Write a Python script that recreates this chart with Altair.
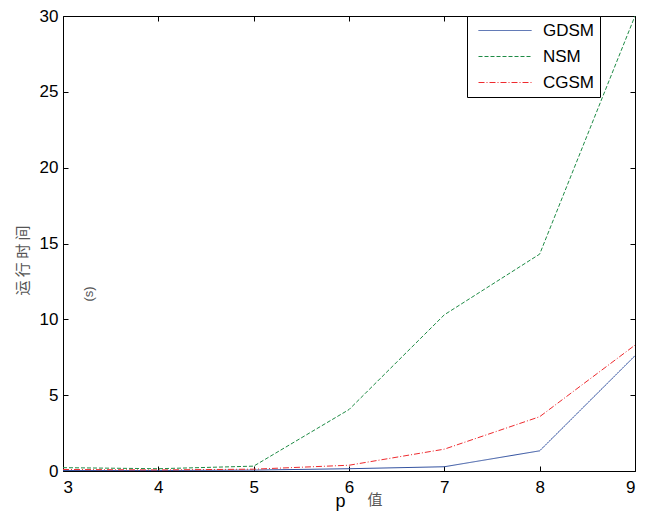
import altair as alt
import pandas as pd

p_values = [3, 4, 5, 6, 7, 8, 9]
gdsm = [0.03, 0.03, 0.06, 0.15, 0.28, 1.33, 7.6]
nsm = [0.22, 0.15, 0.32, 4.05, 10.3, 14.3, 30.0]
cgsm = [0.1, 0.07, 0.12, 0.38, 1.44, 3.58, 8.3]
methods = ["GDSM", "NSM", "CGSM"]
colors = ["#2f4f9f", "#1e8b45", "#ee2a2e"]
dashes = [[1, 0], [4, 2], [6, 2, 1, 2]]
y_ticks = [0, 5, 10, 15, 20, 25, 30]

rows = []
for m, vals in zip(methods, [gdsm, nsm, cgsm]):
    for p, v in zip(p_values, vals):
        rows.append({"p": p, "t": v, "method": m})
df = pd.DataFrame(rows)

xs = alt.Scale(domain=[3, 9], nice=False, zero=False)
ys = alt.Scale(domain=[0, 30], nice=False)

leg = dict(title=None, orient="none", legendX=404, legendY=0,
           strokeColor="black", fillColor="white", padding=6,
           symbolType="stroke", symbolSize=2809, symbolStrokeWidth=1,
           symbolOffset=5, clipHeight=17,
           labelFontSize=17, labelFont="Liberation Sans", labelColor="black",
           labelOffset=11, rowPadding=8)

lines = alt.Chart(df).mark_line(strokeWidth=1, clip=True).encode(
    x=alt.X("p:Q", scale=xs, axis=alt.Axis(values=p_values, format="d", title="p",
                                            titleX=277, titleY=40, titleBaseline="alphabetic",
                                            titleFontSize=18, titleFontWeight="normal",
                                            offset=-5, tickSize=5, labelPadding=8)),
    y=alt.Y("t:Q", scale=ys, axis=alt.Axis(values=y_ticks, title="运 行 时 间",
                                            titleX=-46, titleY=244, titleAngle=-90,
                                            titleBaseline="middle", titleAlign="center",
                                            titleFont="Noto Sans CJK SC", titleColor="#555555",
                                            titleFontSize=15, titleFontWeight="normal",
                                            offset=-5, tickSize=5, labelPadding=5)),
    color=alt.Color("method:N", sort=methods, scale=alt.Scale(domain=methods, range=colors),
                    legend=alt.Legend(**leg)),
    strokeDash=alt.StrokeDash("method:N", sort=methods, scale=alt.Scale(domain=methods, range=dashes),
                              legend=alt.Legend(**leg)),
)

frame_axes = alt.Chart(df).mark_line(opacity=0).encode(
    x=alt.X("p:Q", scale=xs, axis=alt.Axis(orient="top", values=p_values, labels=False, title=None,
                                            offset=-5, tickSize=5)),
    y=alt.Y("t:Q", scale=ys, axis=alt.Axis(orient="right", values=y_ticks, labels=False, title=None,
                                            offset=-5, tickSize=5)),
)

unit_df = pd.DataFrame({"label": ["(s)"]})
unit = alt.Chart(unit_df).mark_text(angle=270, fontSize=13, color="#555555",
                                    font="Liberation Sans").encode(
    x=alt.value(26), y=alt.value(278), text="label:N")

val_df = pd.DataFrame({"label": ["值"]})
val = alt.Chart(val_df).mark_text(fontSize=15, color="#555555", font="Noto Sans CJK SC").encode(
    x=alt.value(312), y=alt.value(484), text="label:N")

chart = alt.layer(lines, frame_axes, unit, val).resolve_axis(
    x="independent", y="independent"
).properties(
    width=572, height=455,
    autosize=alt.AutoSizeParams(type="none"),
    padding={"left": 55, "top": 8, "right": 4, "bottom": 40},
).configure_view(
    stroke="black", strokeWidth=1
).configure_axis(
    domain=False, grid=False, tickColor="black", labelColor="black",
    labelFont="Liberation Sans", labelFontSize=17, titleFont="Liberation Sans",
    titleColor="black"
)

chart.save("out.html", embed_options={"renderer": "svg", "actions": False})
